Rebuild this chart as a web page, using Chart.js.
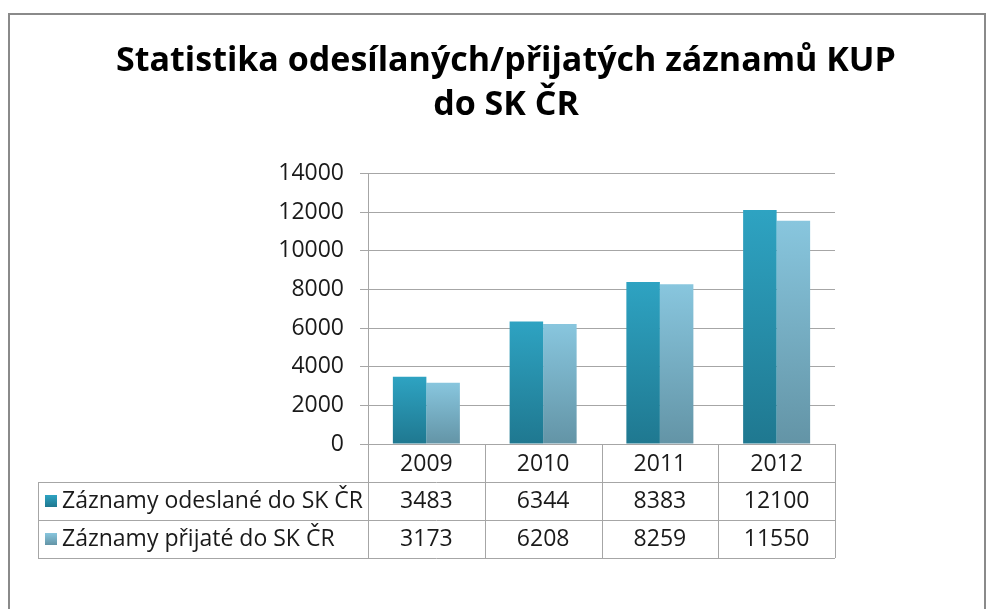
<!DOCTYPE html>
<html>
<head>
<meta charset="utf-8">
<script src="https://cdn.jsdelivr.net/npm/chart.js@4"></script>
<style>
  html, body { margin: 0; padding: 0; background: #fff; }
  #wrap { width: 994px; height: 609px; position: relative; }
</style>
</head>
<body>
<div id="wrap"><canvas id="kupChart"></canvas></div>
<script>
const years = ['2009', '2010', '2011', '2012'];
const sentLabel = 'Záznamy odeslané do SK ČR';
const receivedLabel = 'Záznamy přijaté do SK ČR';
const sent = [3483, 6344, 8383, 12100];
const received = [3173, 6208, 8259, 11550];
const yTicks = [0, 2000, 4000, 6000, 8000, 10000, 12000, 14000];

const FONT = '"Open Sans", "Noto Sans", sans-serif';
const lineColor = '#a6a6a6';

// vertical gradient per bar, like the Excel fill
function barFill(top, bottom) {
  return (ctx) => {
    const chart = ctx.chart;
    const y = chart.scales.y;
    if (!chart.chartArea || !y || ctx.parsed == null) return top;
    const yTop = y.getPixelForValue(ctx.parsed.y);
    const g = chart.ctx.createLinearGradient(0, yTop, 0, chart.chartArea.bottom);
    g.addColorStop(0, top);
    g.addColorStop(1, bottom);
    return g;
  };
}

const sentTop = '#2ea3c2', sentBottom = '#1f7890';
const recTop = '#88c6de', recBottom = '#6394a6';

const dataTable = {
  id: 'dataTable',
  beforeDraw(chart) {
    const c = chart.ctx;
    c.save();
    c.strokeStyle = '#8a8a8a';
    c.lineWidth = 2;
    c.strokeRect(9, 14, 976, 640);
    c.restore();
  },
  afterDraw(chart) {
    const c = chart.ctx;
    const x = chart.scales.x;
    const area = chart.chartArea;
    const rowH = 38;
    const top = area.bottom;
    const left = 38;
    const half = (x.getPixelForValue(1) - x.getPixelForValue(0)) / 2;
    const bounds = [area.left];
    years.forEach((_, i) => bounds.push(x.getPixelForValue(i) + half));

    c.save();
    c.strokeStyle = lineColor;
    c.lineWidth = 1;
    c.beginPath();
    for (let r = 1; r <= 3; r++) {
      const yy = Math.round(top + r * rowH) + 0.5;
      c.moveTo(left, yy);
      c.lineTo(area.right, yy);
    }
    bounds.forEach((bx) => {
      const xx = Math.round(bx) + 0.5;
      c.moveTo(xx, top);
      c.lineTo(xx, top + 3 * rowH);
    });
    c.moveTo(left + 0.5, top + rowH);
    c.lineTo(left + 0.5, top + 3 * rowH);
    c.stroke();

    c.fillStyle = '#1a1a1a';
    c.font = '23px ' + FONT;
    c.textAlign = 'center';
    c.textBaseline = 'middle';
    years.forEach((yr, i) => {
      const cx = x.getPixelForValue(i);
      c.fillText(yr, cx, top + rowH / 2 + 1);
      c.fillText(String(sent[i]), cx, top + rowH * 1.5);
      c.fillText(String(received[i]), cx, top + rowH * 2.5);
    });

    const rows = [
      { label: sentLabel, t: sentTop, b: sentBottom },
      { label: receivedLabel, t: recTop, b: recBottom }
    ];
    c.textAlign = 'left';
    rows.forEach((row, r) => {
      const cy = top + rowH * (r + 1.5);
      const g = c.createLinearGradient(0, cy - 6, 0, cy + 6);
      g.addColorStop(0, row.t);
      g.addColorStop(1, row.b);
      c.fillStyle = g;
      c.fillRect(45, cy - 6, 12, 12);
      c.fillStyle = '#1a1a1a';
      c.fillText(row.label, 62, cy);
    });
    c.restore();
  }
};

new Chart(document.getElementById('kupChart'), {
  type: 'bar',
  data: {
    labels: years,
    datasets: [
      { label: sentLabel, data: sent, backgroundColor: barFill(sentTop, sentBottom), borderWidth: 0 },
      { label: receivedLabel, data: received, backgroundColor: barFill(recTop, recBottom), borderWidth: 0 }
    ]
  },
  options: {
    responsive: true,
    maintainAspectRatio: false,
    animation: false,
    layout: { padding: { left: 18, right: 0, top: 0, bottom: 165 } },
    datasets: { bar: { categoryPercentage: 0.574, barPercentage: 1 } },
    plugins: {
      legend: { display: false },
      tooltip: { enabled: false },
      title: {
        display: true,
        text: ['Statistika odesílaných/přijatých záznamů KUP', 'do SK ČR'],
        color: '#000',
        font: { family: FONT, size: 34, weight: 'bold', lineHeight: 1.3 },
        padding: { top: 39, bottom: 46 },
        position: 'top',
        align: 'center',
        fullSize: true
      }
    },
    scales: {
      x: {
        ticks: { display: false },
        grid: { display: false },
        border: { display: false },
        afterFit(scale) { scale.height = 0; }
      },
      y: {
        min: 0,
        max: 14000,
        afterBuildTicks(scale) { scale.ticks = yTicks.map((v) => ({ value: v })); },
        afterFit(scale) { scale.width = 350; },
        ticks: {
          color: '#1a1a1a',
          padding: 16,
          font: { family: FONT, size: 23 },
          callback: (v) => String(v)
        },
        grid: { color: lineColor, tickLength: 8, lineWidth: 1 },
        border: { color: lineColor }
      },
      // empty right-side spacer so the plot ends where the original does
      spacer: {
        type: 'linear',
        position: 'right',
        ticks: { display: false },
        grid: { display: false, drawOnChartArea: false },
        border: { display: false },
        afterFit(scale) { scale.width = 159; }
      }
    }
  },
  plugins: [dataTable]
});
</script>
</body>
</html>
